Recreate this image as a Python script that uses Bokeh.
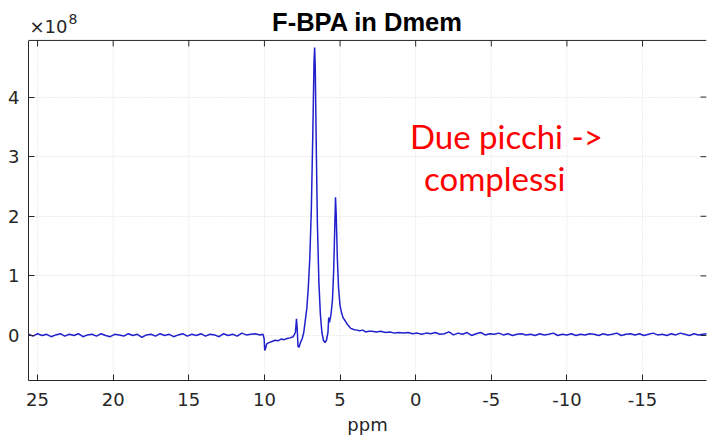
import math
from bokeh.plotting import figure
from bokeh.models import Range1d, FixedTicker, Label, ColumnDataSource, Span
from bokeh.embed import file_html
from bokeh.resources import INLINE

# ---------------- data (intensity in units of 1e8) ----------------
left_ppm = [25.6, 25.3, 25.0, 24.7, 24.4, 24.1, 23.8, 23.5, 23.2, 22.9,
            22.6, 22.3, 22.0, 21.7, 21.4, 21.1, 20.8, 20.5, 20.2, 19.9,
            19.6, 19.3, 19.0, 18.7, 18.4, 18.1, 17.8, 17.5, 17.2, 16.9,
            16.6, 16.3, 16.0, 15.7, 15.4, 15.1, 14.8, 14.5, 14.2, 13.9,
            13.6, 13.3, 13.0, 12.7, 12.4, 12.1, 11.8, 11.5, 11.2, 10.9,
            10.6, 10.3]
left_val = [0.02, -0.01, 0.03, 0.00, 0.02, -0.02, 0.01, 0.03, -0.01, 0.02,
            0.00, 0.03, -0.02, 0.01, 0.02, -0.01, 0.03, 0.00, -0.02, 0.02,
            0.01, -0.01, 0.03, 0.00, 0.02, -0.03, 0.01, 0.02, -0.01, 0.03,
            0.00, 0.02, -0.02, 0.01, 0.03, -0.01, 0.02, 0.00, 0.03, -0.01,
            0.02, 0.01, -0.02, 0.03, 0.00, 0.02, -0.01, 0.04, 0.01, 0.02,
            0.03, 0.01]

peak_ppm = [10.1, 10.02, 9.98, 9.93, 9.85, 9.7, 9.5, 9.3, 9.1, 8.9,
            8.7, 8.5, 8.3, 8.1, 7.95, 7.88, 7.83, 7.78, 7.72, 7.62,
            7.5, 7.4, 7.3, 7.2, 7.1, 7.0, 6.9, 6.8, 6.72, 6.68,
            6.64, 6.58, 6.5, 6.4, 6.3, 6.2, 6.1, 6.0, 5.9, 5.8,
            5.75, 5.7, 5.6, 5.5, 5.42, 5.35, 5.3, 5.25, 5.18, 5.1,
            5.0, 4.9, 4.8, 4.7, 4.6, 4.5, 4.4, 4.3, 4.1, 3.9,
            3.7, 3.5, 3.3, 3.1]
peak_val = [0.02, -0.05, -0.25, -0.22, -0.14, -0.12, -0.10, -0.08, -0.09, -0.06,
            -0.07, -0.05, -0.04, -0.02, 0.05, 0.28, 0.10, -0.18, -0.20, -0.12,
            -0.05, 0.05, 0.25, 0.45, 0.80, 1.30, 2.10, 3.40, 4.60, 4.83,
            4.50, 3.30, 1.90, 0.90, 0.35, 0.05, -0.08, -0.12, -0.08, 0.05,
            0.30, 0.22, 0.35, 0.60, 1.10, 1.80, 2.32, 2.00, 1.30, 0.80,
            0.50, 0.38, 0.30, 0.26, 0.22, 0.18, 0.15, 0.12, 0.10, 0.09,
            0.08, 0.09, 0.06, 0.07]

tail_ppm = [2.9, 2.6, 2.3, 2.0, 1.7, 1.4, 1.1, 0.8, 0.5, 0.2,
            -0.1, -0.4, -0.7, -1.0, -1.3, -1.6, -1.9, -2.2, -2.5, -2.8,
            -3.1, -3.4, -3.7, -4.0, -4.3, -4.6, -4.9, -5.2, -5.5, -5.8,
            -6.1, -6.4, -6.7, -7.0, -7.3, -7.6, -7.9, -8.2, -8.5, -8.8,
            -9.1, -9.4, -9.7, -10.0, -10.3, -10.6, -10.9, -11.2, -11.5, -11.8,
            -12.1, -12.4, -12.7, -13.0, -13.3, -13.6, -13.9, -14.2, -14.5, -14.8,
            -15.1, -15.4, -15.7, -16.0, -16.3, -16.6, -16.9, -17.2, -17.5, -17.8,
            -18.1, -18.4, -18.7, -19.0, -19.3]
tail_val = [0.07, 0.06, 0.07, 0.05, 0.06, 0.04, 0.05, 0.04, 0.05, 0.03,
            0.04, 0.02, 0.04, 0.03, 0.05, 0.02, 0.03, 0.06, 0.01, 0.04,
            0.02, 0.05, 0.00, 0.03, 0.05, 0.01, 0.03, 0.02, 0.04, 0.01,
            0.03, 0.00, 0.02, 0.03, 0.01, 0.02, 0.00, 0.03, 0.01, 0.02,
            0.04, 0.00, 0.02, 0.01, 0.03, 0.00, 0.02, 0.01, 0.03, 0.02,
            0.00, 0.03, 0.01, 0.02, 0.04, 0.00, 0.02, 0.03, 0.01, 0.03,
            0.00, 0.02, 0.04, 0.01, 0.02, 0.00, 0.03, 0.01, 0.04, 0.02,
            0.00, 0.03, 0.01, 0.02, 0.03]

x_ticks = [25, 20, 15, 10, 5, 0, -5, -10, -15]
y_ticks = [0, 1, 2, 3, 4]
x_start, x_end = 25.6, -19.23
y_start, y_end = -0.755, 4.95      # extent of the axes box
y_canvas_top = 5.62                # frame is extended upward to hold the title row

title_text = "F-BPA in Dmem"
x_label = "ppm"
exponent_base = "\u00d710"
exponent_power = "8"
note_line1 = "Due picchi ->"
note_line2 = "complessi"

# ---------------- figure ----------------
src = ColumnDataSource(data=dict(ppm=left_ppm + peak_ppm + tail_ppm,
                                 val=left_val + peak_val + tail_val))

AX = "#262626"
FONT = "DejaVu Sans"
GRID = "#d9d9d9"

p = figure(width=707, height=438, output_backend="svg", toolbar_location=None,
           title_location=None,
           x_range=Range1d(x_start, x_end), y_range=Range1d(y_start, y_canvas_top),
           min_border_left=28, min_border_right=1, min_border_top=0, min_border_bottom=58,
           background_fill_color="white", border_fill_color="white")

p.outline_line_color = None

p.xaxis.ticker = FixedTicker(ticks=x_ticks)
p.yaxis.ticker = FixedTicker(ticks=y_ticks)
p.xaxis.major_label_overrides = {t: str(t) for t in x_ticks}
p.yaxis.bounds = (y_start, y_end)

for ax in (p.xaxis[0], p.yaxis[0]):
    ax.major_tick_in = 6
    ax.major_tick_out = 0
    ax.minor_tick_line_color = None
    ax.axis_line_color = AX
    ax.major_tick_line_color = AX
    ax.major_label_text_font = FONT
    ax.major_label_text_font_size = "18px"
    ax.major_label_text_color = AX

p.xaxis.axis_label = x_label
p.xaxis.axis_label_text_font = FONT
p.xaxis.axis_label_text_font_size = "18px"
p.xaxis.axis_label_text_font_style = "normal"
p.xaxis.axis_label_text_color = AX
p.xaxis.axis_label_standoff = 5
p.xaxis.major_label_standoff = 12
p.yaxis.major_label_standoff = 9

# grid: horizontal from the y ticks, vertical ones limited to the axes box
p.ygrid.ticker = FixedTicker(ticks=y_ticks)
p.ygrid.grid_line_color = GRID
p.ygrid.grid_line_dash = "1 2"
p.xgrid.visible = False
p.segment(x0=x_ticks, y0=[y_start] * len(x_ticks), x1=x_ticks, y1=[y_end] * len(x_ticks),
          line_color=GRID, line_dash="1 2", line_width=1)

# top edge of the box and inward ticks on top/right edges
p.add_layout(Span(location=y_end, dimension="width", line_color=AX, line_width=1))
p.ray(x=x_ticks, y=[y_end] * len(x_ticks), length=6, length_units="screen",
      angle=-math.pi / 2, line_color=AX, line_width=1)
p.ray(x=[x_end] * len(y_ticks), y=y_ticks, length=6, length_units="screen",
      angle=math.pi, line_color=AX, line_width=1)

p.line("ppm", "val", source=src, line_color="#2020cc", line_width=1.5)

# title and exponent, above the box
p.add_layout(Label(x=(x_start + x_end) / 2, y=y_end, y_offset=18, text=title_text,
                   text_font="Liberation Sans", text_font_style="bold", text_font_size="25.5px",
                   text_color="#000000", text_align="center", text_baseline="middle"))
p.add_layout(Label(x=x_start, y=y_end, x_offset=1, y_offset=14, text=exponent_base,
                   text_font=FONT, text_font_size="18px", text_color=AX,
                   text_baseline="middle"))
p.add_layout(Label(x=x_start, y=y_end, x_offset=40, y_offset=21, text=exponent_power,
                   text_font=FONT, text_font_size="14px", text_color=AX,
                   text_baseline="middle"))

# red annotation
p.add_layout(Label(x=0.38, y=3.34, text=note_line1, text_font="Lato", text_font_size="33px",
                   text_color="#ff0000", text_baseline="middle"))
p.add_layout(Label(x=-0.55, y=2.65, text=note_line2, text_font="Lato", text_font_size="33px",
                   text_color="#ff0000", text_baseline="middle"))

open("out.html", "w").write(file_html(p, INLINE))
